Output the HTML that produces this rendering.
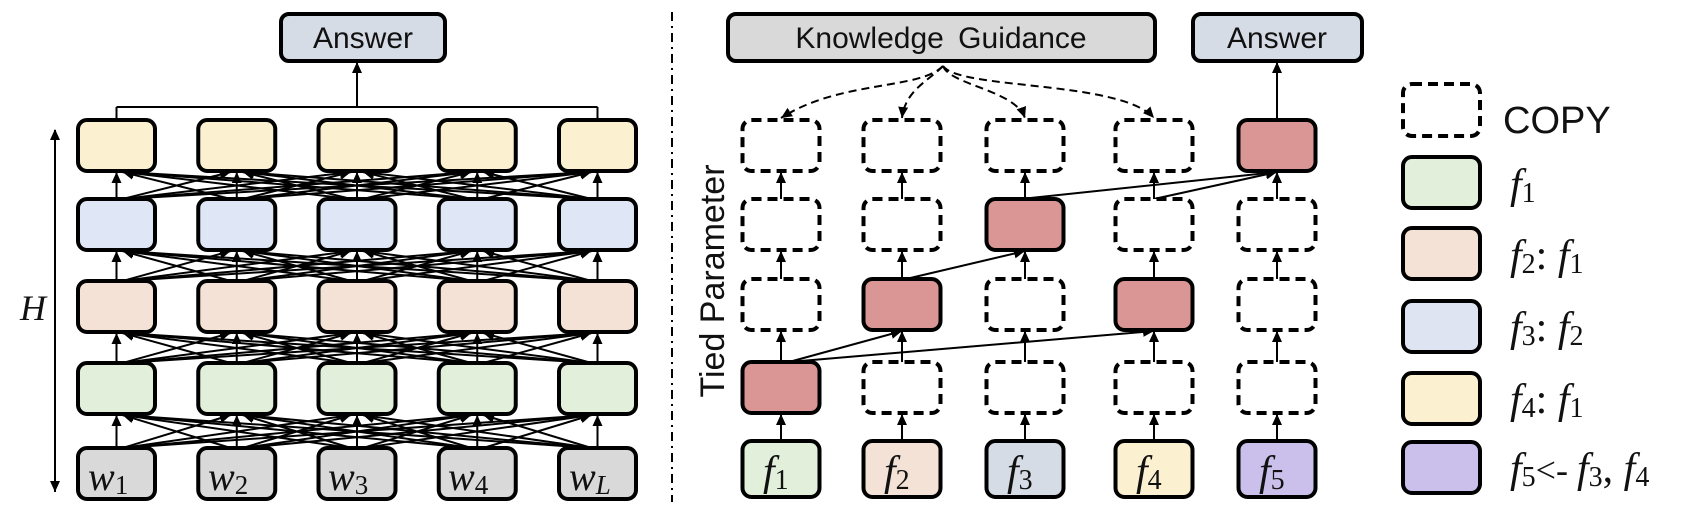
<!DOCTYPE html>
<html><head><meta charset="utf-8"><style>
html,body{margin:0;padding:0;background:#fff;}
svg{display:block;}
.lbl{font-family:"Liberation Sans",sans-serif;font-size:30px;fill:#111;}
.m{font-family:"Liberation Serif",serif;font-style:italic;fill:#111;}
.sub{font-family:"Liberation Serif",serif;font-style:normal;fill:#111;}
</style></head><body>
<svg id="s" width="1681" height="510" viewBox="0 0 1681 510" xmlns="http://www.w3.org/2000/svg">
<defs>
<marker id="ar" markerUnits="userSpaceOnUse" markerWidth="12" markerHeight="12" refX="11" refY="5" orient="auto"><path d="M0,0 L11,5 L0,10 z" fill="#000"/></marker>
<marker id="ar2" markerUnits="userSpaceOnUse" markerWidth="12" markerHeight="12" refX="1" refY="5" orient="auto"><path d="M11,0 L0,5 L11,10 z" fill="#000"/></marker>
</defs>
<g id="lines" stroke="#000" stroke-width="2" fill="none"></g>
<g id="boxes" stroke="#000" stroke-width="4"></g>

<rect x="281" y="14" width="164" height="47" rx="8" fill="#d6dce5" stroke="#000" stroke-width="4"/>
<text class="lbl" x="363" y="48" text-anchor="middle">Answer</text>
<path d="M116.5,107 H597.5 M116.5,107 V120 M597.5,107 V120" stroke="#000" stroke-width="2" fill="none"/>
<line x1="357" y1="107" x2="357" y2="62" stroke="#000" stroke-width="2" marker-end="url(#ar)"/>

<line x1="55" y1="130" x2="55" y2="492" stroke="#000" stroke-width="2" marker-end="url(#ar)" marker-start="url(#ar2)"/>
<text class="m" x="20" y="320" font-size="36">H</text>

<line x1="672" y1="12" x2="672" y2="502" stroke="#000" stroke-width="2" stroke-dasharray="9,5,2,5"/>

<rect x="728" y="14" width="427" height="47" rx="8" fill="#d9d9d9" stroke="#000" stroke-width="4"/>
<text class="lbl" x="941" y="48" text-anchor="middle" word-spacing="6">Knowledge Guidance</text>
<rect x="1193" y="14" width="169" height="47" rx="8" fill="#d6dce5" stroke="#000" stroke-width="4"/>
<text class="lbl" x="1277" y="48" text-anchor="middle">Answer</text>
<line x1="1277" y1="120" x2="1277" y2="62" stroke="#000" stroke-width="2" marker-end="url(#ar)"/>

<g stroke="#000" stroke-width="2" fill="none" stroke-dasharray="8,5" marker-end="url(#ar)">
<path d="M943,66 C920,90 840,80 781,118"/>
<path d="M943,66 C930,80 905,90 902,118"/>
<path d="M943,66 C950,85 1015,90 1025,118"/>
<path d="M943,66 C960,90 1120,80 1154,118"/>
</g>

<text x="724" y="281" transform="rotate(-90 724 281)" text-anchor="middle" font-family="Liberation Sans,sans-serif" font-size="34" fill="#111">Tied Parameter</text>

<g font-size="40">
<text class="m" x="88" y="490">w<tspan class="sub" font-size="27" dy="4">1</tspan></text>
<text class="m" x="208" y="490">w<tspan class="sub" font-size="27" dy="4">2</tspan></text>
<text class="m" x="328" y="490">w<tspan class="sub" font-size="27" dy="4">3</tspan></text>
<text class="m" x="448" y="490">w<tspan class="sub" font-size="27" dy="4">4</tspan></text>
<text class="m" x="569" y="490">w<tspan font-size="27" dy="4">L</tspan></text>
</g>
<g font-size="42">
<text class="m" x="763" y="485">f<tspan class="sub" font-size="28" dy="4">1</tspan></text>
<text class="m" x="884" y="485">f<tspan class="sub" font-size="28" dy="4">2</tspan></text>
<text class="m" x="1007" y="485">f<tspan class="sub" font-size="28" dy="4">3</tspan></text>
<text class="m" x="1136" y="485">f<tspan class="sub" font-size="28" dy="4">4</tspan></text>
<text class="m" x="1259" y="485">f<tspan class="sub" font-size="28" dy="4">5</tspan></text>
</g>

<rect x="1403" y="84" width="77" height="52" rx="9" fill="#fff" stroke="#000" stroke-width="4" stroke-dasharray="10,6"/>
<rect x="1403" y="157" width="77" height="51" rx="9" fill="#e2efda" stroke="#000" stroke-width="4"/>
<rect x="1403" y="228" width="77" height="51" rx="9" fill="#f5e2d6" stroke="#000" stroke-width="4"/>
<rect x="1403" y="301" width="77" height="51" rx="9" fill="#dfe4f3" stroke="#000" stroke-width="4"/>
<rect x="1403" y="373" width="77" height="51" rx="9" fill="#fbf0cf" stroke="#000" stroke-width="4"/>
<rect x="1403" y="442" width="77" height="51" rx="9" fill="#cbc0eb" stroke="#000" stroke-width="4"/>
<text x="1503" y="133" font-family="Liberation Sans,sans-serif" font-size="38" fill="#111">COPY</text>
<g font-size="42">
<text class="m" x="1510" y="198">f<tspan class="sub" font-size="28" dy="4">1</tspan></text>
<text class="m" x="1510" y="269">f<tspan class="sub" font-size="28" dy="4">2</tspan><tspan class="sub" dy="-4">: </tspan>f<tspan class="sub" font-size="28" dy="4">1</tspan></text>
<text class="m" x="1510" y="341">f<tspan class="sub" font-size="28" dy="4">3</tspan><tspan class="sub" dy="-4">: </tspan>f<tspan class="sub" font-size="28" dy="4">2</tspan></text>
<text class="m" x="1510" y="413">f<tspan class="sub" font-size="28" dy="4">4</tspan><tspan class="sub" dy="-4">: </tspan>f<tspan class="sub" font-size="28" dy="4">1</tspan></text>
<text class="m" x="1510" y="482">f<tspan class="sub" font-size="28" dy="4">5</tspan><tspan class="sub" font-family="Liberation Sans,sans-serif" font-size="36" dy="-4">&lt;- </tspan>f<tspan class="sub" font-size="28" dy="4">3</tspan><tspan class="sub" dy="-4">, </tspan>f<tspan class="sub" font-size="28" dy="4">4</tspan></text>
</g>
</svg>
<script>
(function(){
var NS="http://www.w3.org/2000/svg";
var L=document.getElementById("lines"),B=document.getElementById("boxes");
function rect(x,y,w,h,fill,dash){var r=document.createElementNS(NS,"rect");r.setAttribute("x",x);r.setAttribute("y",y);r.setAttribute("width",w);r.setAttribute("height",h);r.setAttribute("rx",9);r.setAttribute("fill",fill);if(dash)r.setAttribute("stroke-dasharray","10,6");B.appendChild(r);}
function line(x1,y1,x2,y2){var l=document.createElementNS(NS,"line");l.setAttribute("x1",x1);l.setAttribute("y1",y1);l.setAttribute("x2",x2);l.setAttribute("y2",y2);l.setAttribute("marker-end","url(#ar)");L.appendChild(l);}
var H=51,W=77;
var lc=[],i,j,k;for(i=0;i<5;i++)lc.push(116.5+120.25*i);
var ltops=[448,363,281,199,120];
var lcol=["#d9d9d9","#e2efda","#f5e2d6","#dfe6f5","#fbf0cf"];
for(k=0;k<5;k++)for(i=0;i<5;i++)rect(lc[i]-W/2,ltops[k],W,H,lcol[k]);
for(k=0;k<4;k++){var y1=ltops[k],y2=ltops[k+1]+H;
 for(i=0;i<5;i++)for(j=0;j<5;j++){
  if(i==j)line(lc[i],y1,lc[j],y2+1);
  else line(lc[i]+(j>i?6:-6),y1,lc[j]+(i>j?6:-6),y2+1);
 }}
var rc=[781,902,1025,1154,1277];
var rtops=[441,362,279,199,120];
var fcol=["#e2efda","#f5e2d6","#d6dce5","#fbf0cf","#cbc0eb"];
var red={"1,0":1,"2,1":1,"2,3":1,"3,2":1,"4,4":1};
for(i=0;i<5;i++)rect(rc[i]-W/2,rtops[0],W,56,fcol[i]);
for(k=1;k<5;k++)for(i=0;i<5;i++){
 if(red[k+","+i])rect(rc[i]-W/2,rtops[k],W,H,"#d99694");else rect(rc[i]-W/2,rtops[k],W,H,"#fff",true);
}
for(k=0;k<4;k++)for(i=0;i<5;i++)line(rc[i],rtops[k],rc[i],rtops[k+1]+H+1);
line(rc[0]+8,362,rc[1],279+H+1);
line(rc[0]+8,362,rc[3],279+H+1);
line(rc[1]+4,279,rc[2],199+H+1);
line(rc[2]-4,199,rc[4],120+H+1);
line(rc[3],199,rc[4],120+H+1);
})();
</script>
</body></html>
